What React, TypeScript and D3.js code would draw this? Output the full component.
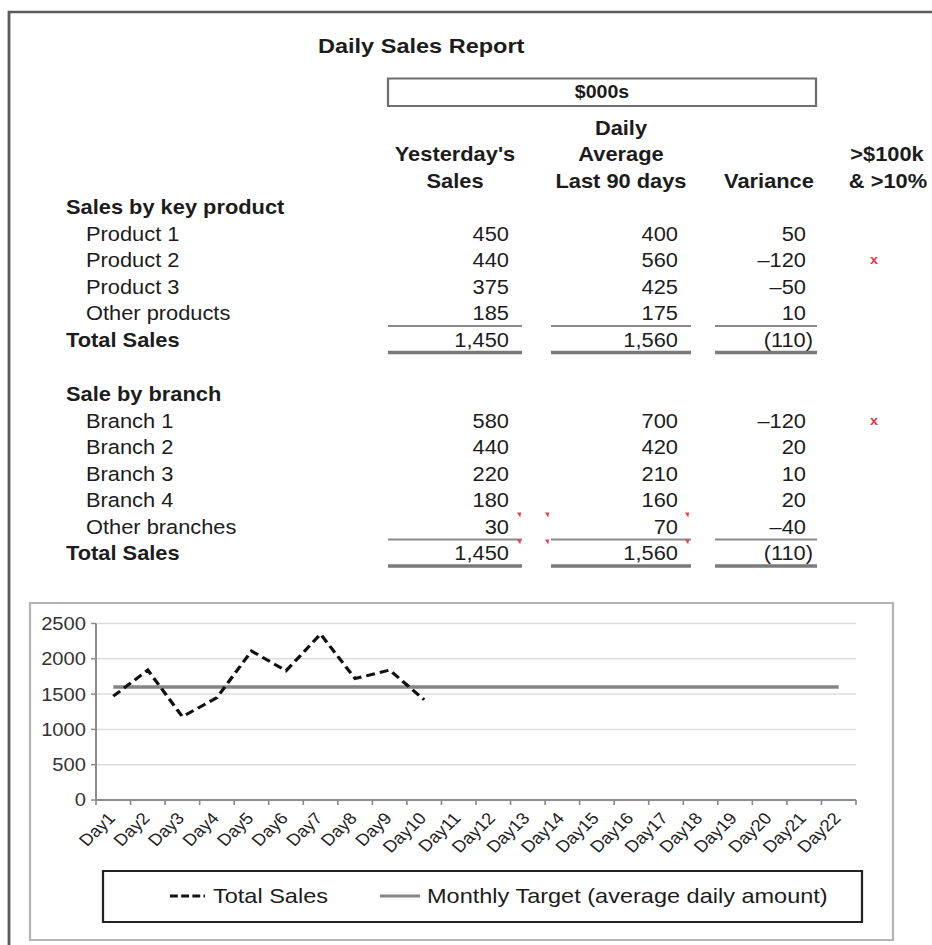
import React from "react";
import * as d3 from "d3";

// ---------- data ----------
const reportTitle = "Daily Sales Report";
const unitLabel = "$000s";

const productLabels = ["Product 1", "Product 2", "Product 3", "Other products"];
const productYesterday = [450, 440, 375, 185];
const productAverage = [400, 560, 425, 175];
const productVariance = [50, -120, -50, 10];
const productFlag = [false, true, false, false];
const productTotals = [1450, 1560, -110];

const branchLabels = ["Branch 1", "Branch 2", "Branch 3", "Branch 4", "Other branches"];
const branchYesterday = [580, 440, 220, 180, 30];
const branchAverage = [700, 420, 210, 160, 70];
const branchVariance = [-120, 20, 10, 20, -40];
const branchFlag = [true, false, false, false, false];
const branchTotals = [1450, 1560, -110];

const days = [
  "Day1", "Day2", "Day3", "Day4", "Day5", "Day6", "Day7", "Day8", "Day9", "Day10", "Day11",
  "Day12", "Day13", "Day14", "Day15", "Day16", "Day17", "Day18", "Day19", "Day20", "Day21", "Day22",
];
const totalSales = [1470, 1840, 1180, 1450, 2110, 1830, 2350, 1720, 1840, 1420];
const monthlyTarget = [
  1600, 1600, 1600, 1600, 1600, 1600, 1600, 1600, 1600, 1600, 1600,
  1600, 1600, 1600, 1600, 1600, 1600, 1600, 1600, 1600, 1600, 1600,
];
const yTicks = [0, 500, 1000, 1500, 2000, 2500];
const legendLabels = ["Total Sales", "Monthly Target (average daily amount)"];

// ---------- layout ----------
const W = 932;
const H = 945;
const SX = 1.12; // horizontal stretch of the reference
const X = (px: number) => px / SX;
const FONT = "'Liberation Sans', Arial, Helvetica, sans-serif";
const INK = "#1c1c1c";

const colRight = [509, 678, 806];
const colLine: [number, number][] = [
  [388, 522],
  [551, 691],
  [715, 817],
];
const flagX = 874;
const ROW = 26.5;

const fmt = d3.format(",");
const fmtNum = (v: number) => (v < 0 ? "\u2013" + fmt(-v) : fmt(v));
const fmtTotal = (v: number) => (v < 0 ? `(${fmt(-v)})` : fmt(v));

function T(props: any) {
  const { x, y, children, anchor = "start", size = 19.5, weight = "normal", fill = INK, ...rest } = props;
  return (
    <text
      x={X(x)}
      y={y}
      textAnchor={anchor}
      fontSize={size}
      fontWeight={weight}
      fill={fill}
      fontFamily={FONT}
      {...rest}
    >
      {children}
    </text>
  );
}

function Section(props: {
  top: number;
  heading: string;
  labels: string[];
  cols: number[][];
  flags: boolean[];
  totals: number[];
}) {
  const { top, heading, labels, cols, flags, totals } = props;
  const totalY = top + ROW * (labels.length + 1);
  const singleY = totalY - 21;
  const doubleY = totalY + 5.5;
  return (
    <g>
      <T x={66} y={top} weight="bold">
        {heading}
      </T>
      {labels.map((lab, i) => {
        const yy = top + ROW * (i + 1);
        return (
          <g key={lab}>
            <T x={86} y={yy}>
              {lab}
            </T>
            {cols.map((col, c) => (
              <T key={c} x={colRight[c]} y={yy} anchor="end">
                {fmtNum(col[i])}
              </T>
            ))}
            {flags[i] && (
              <T x={flagX} y={yy - 3} anchor="middle" size={13} weight="bold" fill="#e53946">
                x
              </T>
            )}
          </g>
        );
      })}
      <T x={66} y={totalY} weight="bold">
        Total Sales
      </T>
      {totals.map((v, c) => (
        <T key={c} x={colRight[c] + (v < 0 ? 7 : 0)} y={totalY} anchor="end">
          {fmtTotal(v)}
        </T>
      ))}
      {colLine.map(([a, b], c) => (
        <g key={c}>
          <line x1={X(a)} x2={X(b)} y1={singleY} y2={singleY} stroke="#8a8a8a" strokeWidth={1.8} />
          <line x1={X(a)} x2={X(b)} y1={doubleY} y2={doubleY} stroke="#7a7a7a" strokeWidth={3.5} />
        </g>
      ))}
    </g>
  );
}

function CommentMark({ x, y }: { x: number; y: number }) {
  return (
    <path
      d={`M${X(x - 2)},${y - 2.5} L${X(x + 2.2)},${y - 2.5} L${X(x + 1.2)},${y + 2.5} Z`}
      fill="#e8404f"
    />
  );
}

export default function App() {
  // chart scales
  const xBand = d3.scaleBand<string>().domain(days).range([X(96), X(856)]).padding(0);
  const y = d3.scaleLinear().domain([0, 2500]).range([800, 623.5]);
  const cx = (d: string) => (xBand(d) as number) + xBand.bandwidth() / 2;

  const salesLine = d3
    .line<number>()
    .x((_, i) => cx(days[i]))
    .y((d) => y(d))(totalSales) as string;
  const targetLine = d3
    .line<number>()
    .x((_, i) => cx(days[i]))
    .y((d) => y(d))(monthlyTarget) as string;

  const xTicks = [...days.map((d) => xBand(d) as number), xBand.range()[1]];
  const [x0, x1] = xBand.range();

  const branchTop = 401.5;
  const otherBranchY = branchTop + ROW * branchLabels.length;
  const branchTotalY = branchTop + ROW * (branchLabels.length + 1);

  return (
    <svg
      width={W}
      height={H}
      viewBox={`0 0 ${X(W)} ${H}`}
      preserveAspectRatio="none"
      style={{ position: "absolute", left: 0, top: 0, display: "block", background: "#fff" }}
    >
      {/* outer frame */}
      <path d={`M${X(9)},${H + 5} V12 H${X(W + 20)}`} fill="none" stroke="#5a5a5a" strokeWidth={2.5} />

      {/* title */}
      <T x={318} y={53} size={21} weight="bold">
        {reportTitle}
      </T>
      <rect x={X(388)} y={78.5} width={X(816) - X(388)} height={27.5} fill="none" stroke="#6e6e6e" strokeWidth={2} />
      <T x={602} y={98} size={17.5} weight="bold" anchor="middle">
        {unitLabel}
      </T>

      {/* column headers */}
      <g fontWeight="bold">
        <T x={621} y={135} weight="bold" anchor="middle">Daily</T>
        <T x={455} y={161.5} weight="bold" anchor="middle">Yesterday's</T>
        <T x={621} y={161.5} weight="bold" anchor="middle">Average</T>
        <T x={887} y={161.5} weight="bold" anchor="middle">&gt;$100k</T>
        <T x={455} y={188} weight="bold" anchor="middle">Sales</T>
        <T x={621} y={188} weight="bold" anchor="middle">Last 90 days</T>
        <T x={769} y={188} weight="bold" anchor="middle">Variance</T>
        <T x={888} y={188} weight="bold" anchor="middle">&amp; &gt;10%</T>
      </g>

      <Section
        top={214.5}
        heading="Sales by key product"
        labels={productLabels}
        cols={[productYesterday, productAverage, productVariance]}
        flags={productFlag}
        totals={productTotals}
      />
      <Section
        top={branchTop}
        heading="Sale by branch"
        labels={branchLabels}
        cols={[branchYesterday, branchAverage, branchVariance]}
        flags={branchFlag}
        totals={branchTotals}
      />
      {[otherBranchY - 19, branchTotalY - 18.5].map((yy, i) => (
        <g key={i}>
          <CommentMark x={colRight[0] + 10} y={yy} />
          <CommentMark x={547} y={yy} />
          <CommentMark x={colRight[1] + 9} y={yy} />
        </g>
      ))}

      {/* chart frame */}
      <rect x={X(30)} y={603} width={X(893) - X(30)} height={337} fill="#fff" stroke="#b4b4b4" strokeWidth={2} />

      {/* gridlines */}
      {yTicks.map((t) => (
        <line key={t} x1={x0} x2={x1} y1={y(t)} y2={y(t)} stroke="#dcdcdc" strokeWidth={1.5} />
      ))}
      {/* axes */}
      <line x1={x0} x2={x0} y1={y(2500)} y2={y(0)} stroke="#8c8c8c" strokeWidth={1.8} />
      <line x1={x0} x2={x1} y1={y(0)} y2={y(0)} stroke="#8c8c8c" strokeWidth={1.8} />
      {yTicks.map((t) => (
        <g key={t}>
          <line x1={X(91)} x2={x0} y1={y(t)} y2={y(t)} stroke="#8c8c8c" strokeWidth={1.5} />
          <T x={86} y={y(t) + 6.5} size={18} anchor="end" fill="#333">
            {t}
          </T>
        </g>
      ))}
      {xTicks.map((t, i) => (
        <line key={i} x1={t} x2={t} y1={y(0)} y2={y(0) + 5} stroke="#8c8c8c" strokeWidth={1.5} />
      ))}
      {days.map((d) => (
        <text
          key={d}
          transform={`translate(${cx(d) + X(3)},819) rotate(-47)`}
          textAnchor="end"
          fontSize={16.5}
          fontFamily={FONT}
          fill="#222"
        >
          {d}
        </text>
      ))}

      {/* series */}
      <path d={targetLine} fill="none" stroke="#858585" strokeWidth={3.5} />
      <path d={salesLine} fill="none" stroke="#111" strokeWidth={3} strokeDasharray="8,4.5" />

      {/* legend */}
      <rect x={X(103)} y={871} width={X(862) - X(103)} height={51} fill="#fff" stroke="#222" strokeWidth={2} />
      <line x1={X(170)} x2={X(205)} y1={896} y2={896} stroke="#111" strokeWidth={3} strokeDasharray="7,3" />
      <T x={213} y={903.5} size={21}>
        {legendLabels[0]}
      </T>
      <line x1={X(380)} x2={X(420)} y1={896} y2={896} stroke="#858585" strokeWidth={3} />
      <T x={427} y={903.5} size={21}>
        {legendLabels[1]}
      </T>
    </svg>
  );
}
